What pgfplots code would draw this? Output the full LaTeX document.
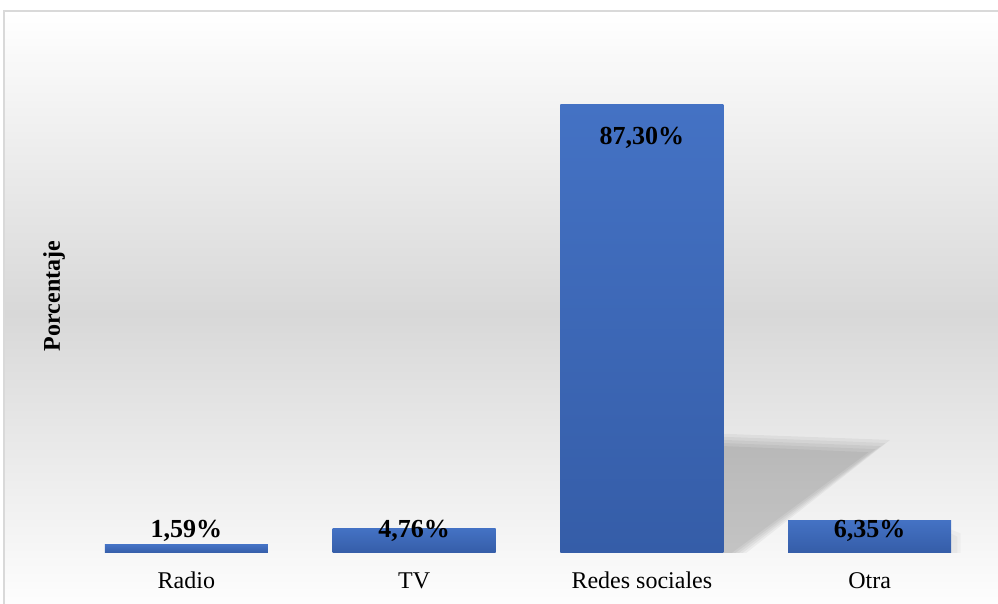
\documentclass[border=0pt]{standalone}
\usepackage{pgfplots}
\pgfplotsset{compat=1.18}
\usepackage{pgfplotstable}
\usepackage{fontspec}
\setmainfont{Liberation Serif}

\definecolor{barTop}{RGB}{68,114,196}
\definecolor{barBot}{RGB}{53,93,168}
\definecolor{frameGray}{RGB}{217,217,217}
\definecolor{bgMid}{RGB}{216,216,216}

% x: category index, val: percentage, lab: baseline height of the value label
\pgfplotstableread{
x val lab
0 1.59 3.1
1 4.76 3.1
2 87.30 79.4
3 6.35 3.1
}\datatable

\pgfplotsset{
  gradbar/.style={ybar, bar width=0.715, bar shift=0pt, draw=none,
    top color=barTop, bottom color=barBot,
    x filter/.expression={x==#1 ? x : nan}},
}

\begin{document}
\begin{tikzpicture}[x=1pt,y=1pt]
\clip (0,0) rectangle (499,302);
% chart area background
\shade[top color=white, bottom color=white, middle color=bgMid]
  (2,-6) rectangle (506,296.5);
\draw[frameGray, line width=0.75pt] (2,-6) rectangle (506,296.5);

\begin{axis}[
  at={(36.25pt,25.5pt)}, anchor=south west,
  scale only axis, width=455.5pt, height=257pt,
  xmin=-0.5, xmax=3.5, ymin=0, ymax=100,
  axis line style={draw=none},
  tick style={draw=none},
  ytick=\empty,
  xtick={0,1,2,3},
  xticklabels={Radio,TV,Redes sociales,Otra},
  xticklabel style={anchor=base, yshift=-18pt, inner sep=0pt,
    font=\fontsize{12}{14}\selectfont},
  ylabel={Porcentaje},
  ylabel style={at={(axis description cs:-0.0203,0.5)}, anchor=center,
    font=\bfseries\fontsize{12}{14}\selectfont},
  clip=false,
]
% soft shadow cast by the tallest bar (nested layers for a blurred edge)
\fill[black, opacity=0.045] (axis cs:2.357,23.2) -- (axis cs:3.090,22.0) -- (axis cs:2.458,0) -- (axis cs:2.357,0) -- cycle;
\fill[black, opacity=0.045] (axis cs:2.357,22.6) -- (axis cs:3.070,21.4) -- (axis cs:2.442,0) -- (axis cs:2.357,0) -- cycle;
\fill[black, opacity=0.045] (axis cs:2.357,22.0) -- (axis cs:3.049,20.8) -- (axis cs:2.426,0) -- (axis cs:2.357,0) -- cycle;
\fill[black, opacity=0.045] (axis cs:2.357,21.4) -- (axis cs:3.025,20.2) -- (axis cs:2.410,0) -- (axis cs:2.357,0) -- cycle;
\fill[black, opacity=0.045] (axis cs:2.357,20.8) -- (axis cs:2.995,19.6) -- (axis cs:2.394,0) -- (axis cs:2.357,0) -- cycle;
% faint shadow beside the last bar
\fill[black, opacity=0.03] (axis cs:3.355,4.6) -- (axis cs:3.400,3.8) -- (axis cs:3.400,0) -- (axis cs:3.355,0) -- cycle;
\fill[black, opacity=0.03] (axis cs:3.355,3.8) -- (axis cs:3.385,3.2) -- (axis cs:3.385,0) -- (axis cs:3.355,0) -- cycle;

\addplot[gradbar=0] table[x=x, y=val] {\datatable};
\addplot[gradbar=1] table[x=x, y=val] {\datatable};
\addplot[gradbar=2] table[x=x, y=val] {\datatable};
\addplot[gradbar=3] table[x=x, y=val] {\datatable};

% value labels
\addplot[draw=none, mark=none,
  point meta=\thisrow{val},
  nodes near coords={\pgfmathprintnumber[fixed, fixed zerofill, precision=2, use comma, assume math mode=true]{\pgfplotspointmeta}\%},
  every node near coord/.append style={anchor=base, inner sep=0pt, text=black,
    font=\bfseries\fontsize{13}{15}\selectfont},
] table[x=x, y=lab] {\datatable};
\end{axis}
\end{tikzpicture}
\end{document}
